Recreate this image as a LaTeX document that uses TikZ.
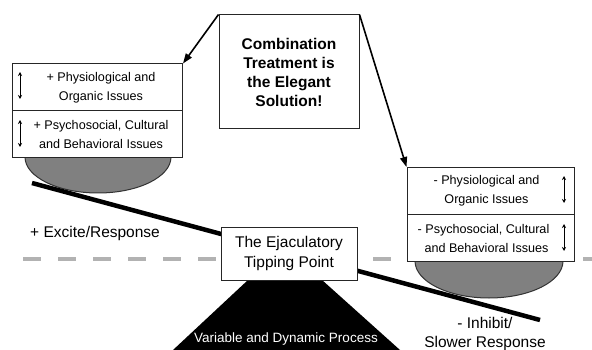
\documentclass[tikz,border=0pt]{standalone}
\usepackage{fontspec}
\setmainfont{Liberation Sans}
\usetikzlibrary{arrows.meta}
\begin{document}
\begin{tikzpicture}[x=1pt,y=-1pt,
  issue/.style={draw=black!85,line width=1pt,fill=white,minimum width=170pt,minimum height=47pt,inner sep=0pt,align=center,font=\fontsize{12.6}{19}\selectfont},
  bowl/.style={draw=black!80,line width=1pt,fill=black!50},
  updown/.style={{Stealth[length=4pt,width=4pt]}-{Stealth[length=4pt,width=4pt]},line width=1pt},
  callarrow/.style={-{Triangle[length=10pt,width=7pt]},line width=1.6pt},
  lever/.style={line width=4.5pt},
  bigtext/.style={font=\fontsize{15.5}{19.5}\selectfont,align=center}]
\useasboundingbox (0,0) rectangle (592,350);
% dashed baseline
\draw[black!30,line width=4pt,dash pattern=on 18pt off 17pt] (23,259) -- (592,259);
% fulcrum
\fill[black] (248,280) -- (322,280) -- (400,350) -- (173,350) -- cycle;
\node[text=white,font=\fontsize{13.5}{14}\selectfont] (vdp) at (286,339) {Variable and Dynamic Process};
% bowls
\draw[bowl] (25,157) arc[start angle=180,end angle=360,x radius=73pt,y radius=36pt] -- cycle;
\draw[bowl] (415,261) arc[start angle=180,end angle=360,x radius=74pt,y radius=37pt] -- cycle;
% lever
\coordinate (lA) at (32,183);
\coordinate (lB) at (540,320);
\draw[lever] (lA) -- (lB);
% tipping point
\node[draw=black!85,line width=1pt,fill=white,minimum width=136pt,minimum height=53pt,bigtext] (tip) at (289,253.5) {The Ejaculatory\\Tipping Point};
% left boxes
\node[issue] (l1) at (97.5,87.5) {\hspace*{7pt}+ Physiological and\\\hspace*{7pt}Organic Issues};
\node[issue] (l2) at (97.5,134) {\hspace*{7pt}+ Psychosocial, Cultural\\\hspace*{7pt}and Behavioral Issues};
\draw[updown] (20,72) -- (20,99);
\draw[updown] (20,120) -- (20,147);
% right boxes
\node[issue,minimum width=167pt] (r1) at (490.5,191) {- Physiological and\hspace*{8pt}\\Organic Issues\hspace*{8pt}};
\node[issue,minimum width=167pt] (r2) at (490.5,238) {- Psychosocial, Cultural\hspace*{14pt}\\and Behavioral Issues\hspace*{8pt}};
\draw[updown] (564,176) -- (564,203);
\draw[updown] (564,224) -- (564,251);
% combination box
\node[draw=black!85,line width=1pt,fill=white,minimum width=140pt,minimum height=114pt,font=\bfseries\fontsize{15.5}{19}\selectfont,align=center] (comb) at (289,72) {Combination\\Treatment is\\the Elegant\\Solution!};
\draw[callarrow] (comb.north west) -- (l1.north east);
\draw[callarrow] (comb.north east) -- (r1.north west);
% labels
\node[bigtext,anchor=west,inner sep=0pt] (exc) at (30,233) {+ Excite/Response};
\node[bigtext] (inh) at (485,334) {- Inhibit/\\Slower Response};
\end{tikzpicture}
\end{document}
